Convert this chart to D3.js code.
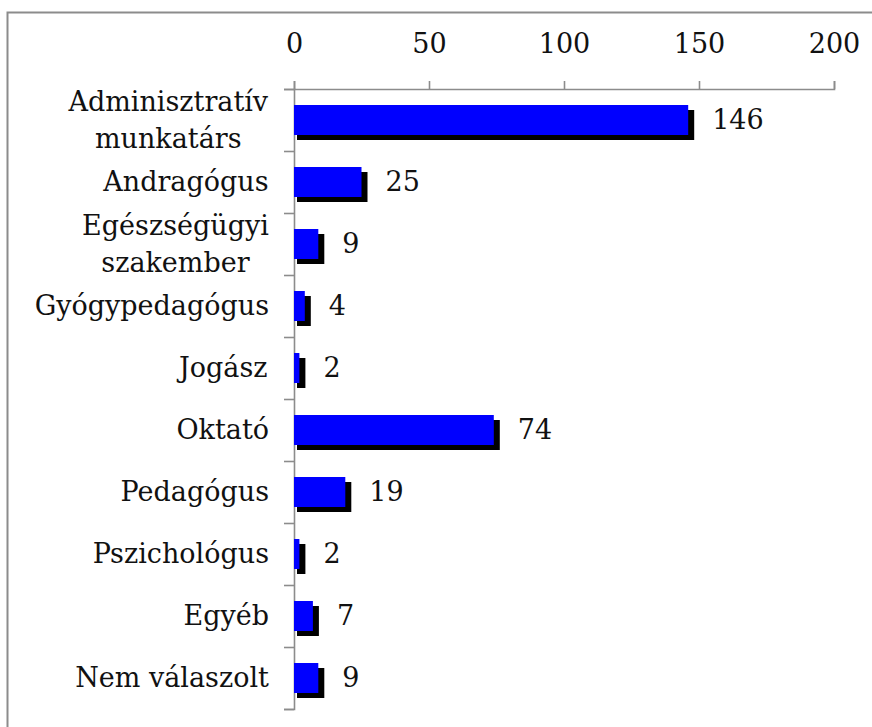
<!DOCTYPE html>
<html>
<head>
<meta charset="utf-8">
<script src="https://cdn.jsdelivr.net/npm/d3@7"></script>
<style>
  body { margin: 0; background: #fff; }
  text { font-family: "DejaVu Serif", serif; fill: #111; }
</style>
</head>
<body>
<svg id="chart"></svg>
<script>
// chart data
var categories = [
  ["Adminisztratív", "munkatárs"],
  ["Andragógus"],
  ["Egészségügyi", "szakember"],
  ["Gyógypedagógus"],
  ["Jogász"],
  ["Oktató"],
  ["Pedagógus"],
  ["Pszichológus"],
  ["Egyéb"],
  ["Nem válaszolt"]
];
var values = [146, 25, 9, 4, 2, 74, 19, 2, 7, 9];
var ticks = [0, 50, 100, 150, 200];

// SVG size params
var width = 872;
var height = 727;
var fontSize = 27;

var svg = d3.select("#chart")
            .attr("width", width)
            .attr("height", height);

// outer frame
svg.append("rect")
    .attr("x", 7.5)
    .attr("y", 12.5)
    .attr("width", width + 20)
    .attr("height", height + 20)
    .attr("fill", "none")
    .attr("stroke", "#8c8c8c")
    .attr("stroke-width", 2);

// scales
var x = d3.scaleLinear()
    .domain([0, 200])
    .range([294, 834]);

var y = d3.scaleBand()
    .domain(d3.range(categories.length))
    .range([89, 709]);

// top axis
var xAxis = svg.append("g")
    .attr("transform", "translate(0,89)")
    .call(d3.axisTop(x).tickValues(ticks).tickSize(8).tickPadding(28));

// left axis, ticks at band boundaries
var yAxis = svg.append("g")
    .attr("transform", "translate(294,0)")
    .call(d3.axisLeft(d3.scaleLinear().domain([0, categories.length]).range([89, 709]))
      .ticks(categories.length).tickSize(10).tickFormat(""));

svg.selectAll(".domain, .tick line")
    .attr("stroke", "#8c8c8c")
    .attr("stroke-width", 1.6);

xAxis.selectAll("text")
    .style("font-size", fontSize + "px")
    .style("font-family", '"DejaVu Serif", serif')
    .attr("fill", "#111");

// bars with shadow
var bars = svg.append("g").attr("id", "bars");

bars.selectAll(".shadow")
    .data(values)
  .enter().append("rect")
    .attr("class", "shadow")
    .attr("x", x(0) + 3)
    .attr("y", (d, i) => y(i) + y.bandwidth() / 2 - 15 + 5)
    .attr("width", d => x(d) - x(0) + 3)
    .attr("height", 30)
    .attr("fill", "#000");

bars.selectAll(".bar")
    .data(values)
  .enter().append("rect")
    .attr("class", "bar")
    .attr("x", x(0))
    .attr("y", (d, i) => y(i) + y.bandwidth() / 2 - 15)
    .attr("width", d => x(d) - x(0))
    .attr("height", 30)
    .attr("fill", "#0000ff");

// value labels
svg.append("g").selectAll("text")
    .data(values)
  .enter().append("text")
    .attr("x", d => x(d) + 24)
    .attr("y", (d, i) => y(i) + y.bandwidth() / 2)
    .attr("dy", "0.35em")
    .style("font-size", fontSize + "px")
    .text(d => d);

// category labels, multi-line ones centred as a block
var labels = svg.append("g").attr("id", "labels");
categories.forEach(function(lines, i) {
  var t = labels.append("text")
      .style("font-size", fontSize + "px")
      .attr("text-anchor", "middle");
  var lineH = 37;
  var y0 = y(i) + y.bandwidth() / 2 - (lines.length - 1) * lineH / 2;
  lines.forEach(function(s, j) {
    t.append("tspan")
      .attr("x", 0)
      .attr("y", y0 + j * lineH)
      .attr("dy", "0.35em")
      .text(s);
  });
  var w = t.node().getBBox().width;
  t.selectAll("tspan").attr("x", 269 - w / 2);
});
</script>
</body>
</html>
